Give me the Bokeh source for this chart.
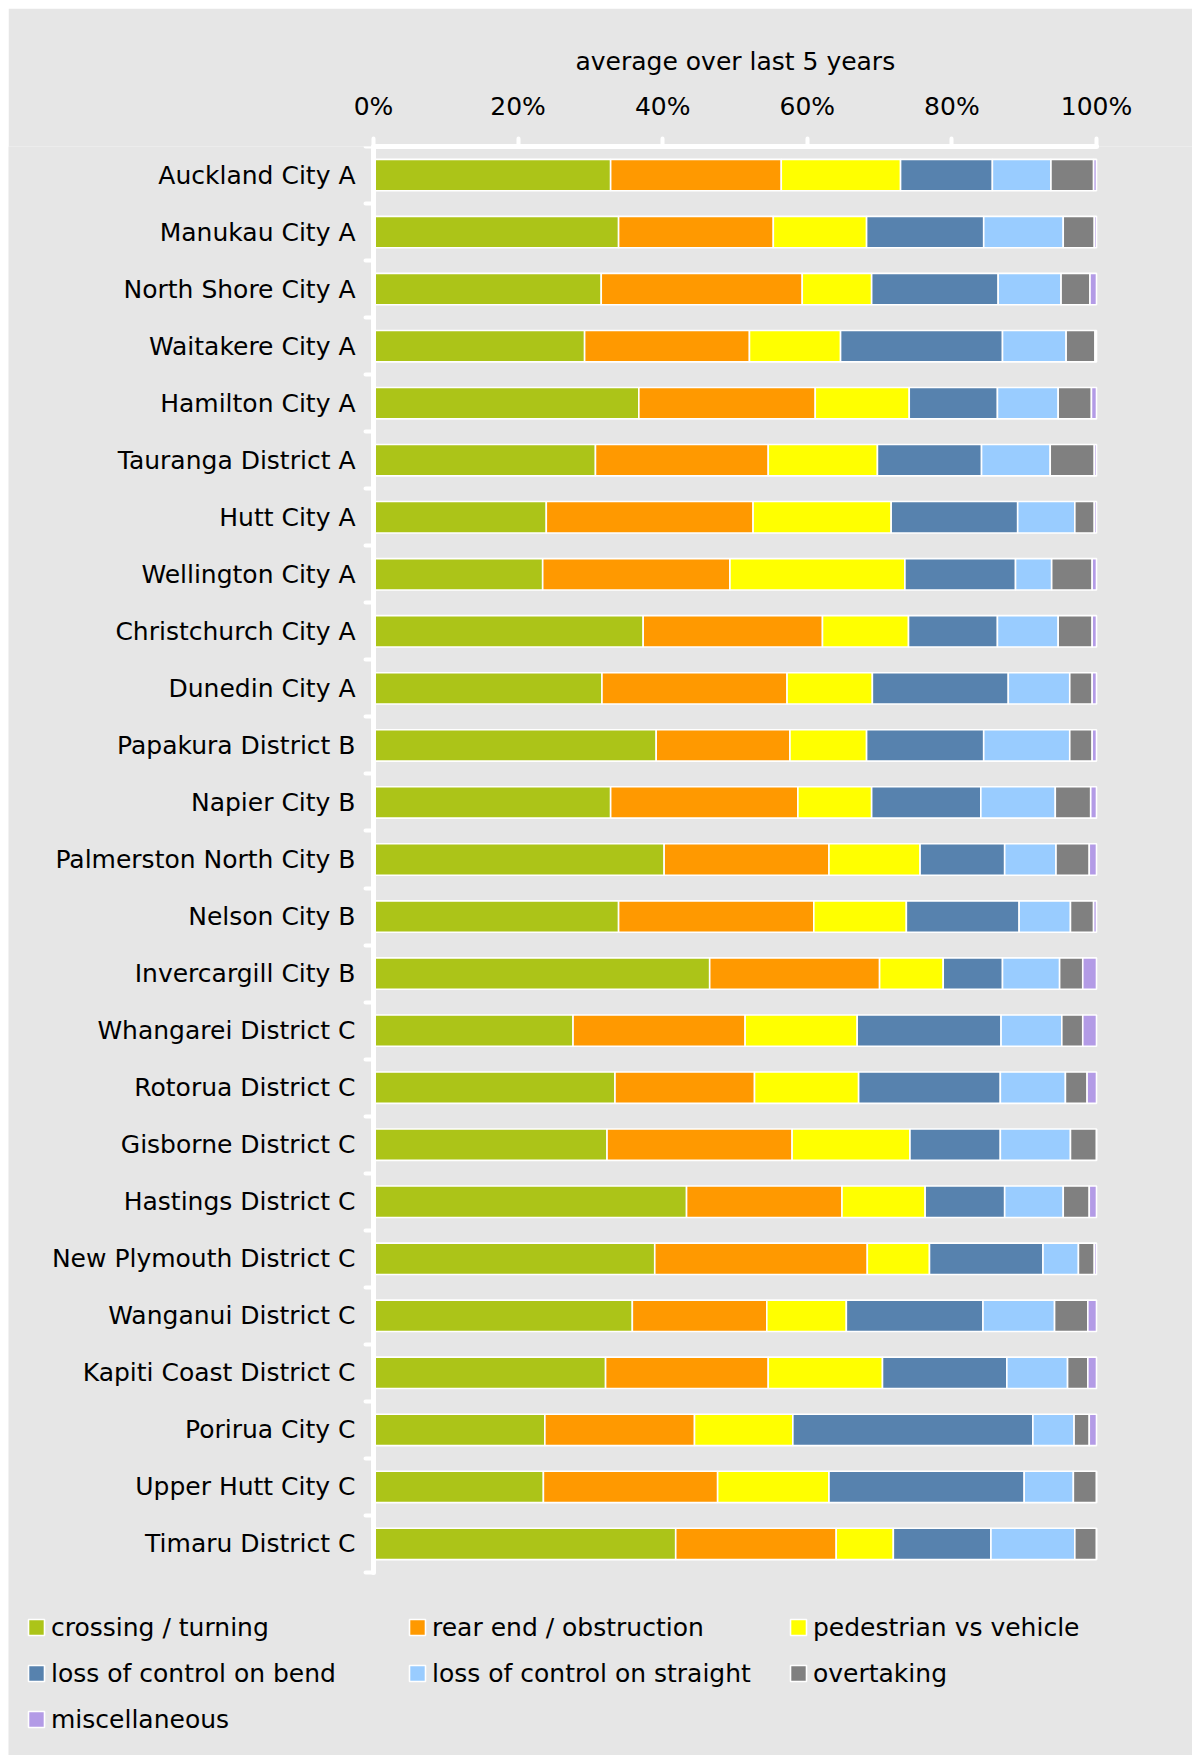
from bokeh.plotting import figure
from bokeh.models import (ColumnDataSource, FixedTicker, PrintfTickFormatter, Legend,
                          LegendItem, Range1d)
from bokeh.embed import file_html
from bokeh.resources import INLINE

# ---------------- data ----------------
districts = [
    "Auckland City A", "Manukau City A", "North Shore City A", "Waitakere City A",
    "Hamilton City A", "Tauranga District A", "Hutt City A", "Wellington City A",
    "Christchurch City A", "Dunedin City A", "Papakura District B", "Napier City B",
    "Palmerston North City B", "Nelson City B", "Invercargill City B",
    "Whangarei District C", "Rotorua District C", "Gisborne District C",
    "Hastings District C", "New Plymouth District C", "Wanganui District C",
    "Kapiti Coast District C", "Porirua City C", "Upper Hutt City C", "Timaru District C",
]

crossing_turning = [32.8, 33.9, 31.5, 29.2, 36.7, 30.7, 23.9, 23.4, 37.3, 31.6, 39.1, 32.8,
                    40.2, 33.9, 46.5, 27.6, 33.4, 32.3, 43.3, 38.9, 35.8, 32.1, 23.7, 23.5, 41.8]
rear_end_obstruction = [23.6, 21.4, 27.8, 22.8, 24.4, 23.9, 28.6, 25.9, 24.8, 25.6, 18.5, 25.9,
                        22.8, 27.0, 23.5, 23.8, 19.3, 25.6, 21.5, 29.4, 18.6, 22.5, 20.7, 24.1, 22.2]
pedestrian_vs_vehicle = [16.5, 12.9, 9.6, 12.6, 13.0, 15.1, 19.1, 24.2, 11.9, 11.8, 10.6, 10.2,
                         12.6, 12.8, 8.8, 15.5, 14.4, 16.3, 11.5, 8.6, 11.0, 15.8, 13.6, 15.4, 7.9]
loss_control_bend = [12.7, 16.2, 17.5, 22.4, 12.2, 14.4, 17.5, 15.3, 12.3, 18.8, 16.2, 15.1,
                     11.7, 15.6, 8.2, 19.9, 19.6, 12.5, 11.0, 15.7, 18.9, 17.2, 33.2, 27.0, 13.5]
loss_control_straight = [8.1, 11.0, 8.7, 8.8, 8.4, 9.5, 7.9, 5.0, 8.4, 8.5, 11.9, 10.3,
                         7.1, 7.1, 7.9, 8.4, 9.0, 9.7, 8.1, 4.9, 9.9, 8.4, 5.7, 6.8, 11.6]
overtaking = [5.9, 4.3, 4.0, 4.0, 4.6, 6.1, 2.7, 5.6, 4.7, 3.1, 3.1, 4.9,
              4.6, 3.2, 3.2, 2.9, 3.0, 3.6, 3.6, 2.2, 4.6, 2.8, 2.1, 3.2, 3.0]
miscellaneous = [0.4, 0.3, 0.9, 0.2, 0.7, 0.3, 0.3, 0.6, 0.6, 0.6, 0.6, 0.8,
                 1.0, 0.4, 1.9, 1.9, 1.3, 0.0, 1.0, 0.3, 1.2, 1.2, 1.0, 0.0, 0.0]

series_labels = ["crossing / turning", "rear end / obstruction", "pedestrian vs vehicle",
                 "loss of control on bend", "loss of control on straight", "overtaking",
                 "miscellaneous"]
series_colors = ["#acc418", "#ff9900", "#ffff00", "#5782ae", "#99ccff", "#808080", "#b39be6"]
x_ticks = [0, 20, 40, 60, 80, 100]
axis_title = "average over last 5 years"

# ---------------- layout constants (pixels inside the figure) ----------------
FONT = "DejaVu Sans"
BG = "#e6e6e6"
W, H = 1184, 1747
FRAME_L, FRAME_R = 0, W           # frame spans the full width so the legend fits inside it
FRAME_T, FRAME_B = 138, H
X0_PX, X100_PX = 365, 1088        # screen position of 0% and 100%
CAT_TOP, CAT_BOT = 138, 1564      # extent of the category bands
TITLE_LEFT_PX = 567               # left edge of the title text
LEGEND_INSET = 18                 # legend distance from the frame's left and bottom edges

n = len(districts)
px_per_pct = (X100_PX - X0_PX) / 100.0
x_start = -(X0_PX - FRAME_L) / px_per_pct
x_end = 100.0 + (FRAME_R - X100_PX) / px_per_pct
band = (CAT_BOT - CAT_TOP) / n
y_bottom = -0.5 + (FRAME_B - FRAME_T) / band

keys = ["s0", "s1", "s2", "s3", "s4", "s5", "s6"]
series = [crossing_turning, rear_end_obstruction, pedestrian_vs_vehicle, loss_control_bend,
          loss_control_straight, overtaking, miscellaneous]
data = {"y": list(range(n))}
for k, s in zip(keys, series):
    data[k] = s
source = ColumnDataSource(data)

p = figure(width=W, height=H, output_backend="svg", toolbar_location=None,
           x_range=Range1d(x_start, x_end), y_range=Range1d(y_bottom, -0.5),
           x_axis_location="above", y_axis_location="left",
           min_border_left=FRAME_L, min_border_right=W - FRAME_R, min_border_top=FRAME_T,
           min_border_bottom=H - FRAME_B, margin=(8, 0, 0, 8),
           title=axis_title, title_location="above")
p.background_fill_color = BG
p.border_fill_color = BG
p.outline_line_color = None
p.xgrid.visible = False
p.ygrid.visible = False

# title placed over the 0-100% axis rather than over the whole frame
p.title.align = "left"
p.title.offset = TITLE_LEFT_PX - FRAME_L
p.title.text_font = FONT
p.title.text_font_size = "25px"
p.title.text_font_style = "normal"
p.title.text_color = "black"
p.title.standoff = 25

renderers = p.hbar_stack(keys, y="y", height=0.55, color=series_colors, source=source,
                         line_color="white", line_width=1.6)

# top axis
xa = p.xaxis[0]
xa.bounds = (0, 100)
xa.ticker = FixedTicker(ticks=x_ticks)
xa.formatter = PrintfTickFormatter(format="%d%%")
xa.axis_line_color = "white"
xa.axis_line_width = 5
xa.axis_line_cap = "round"
xa.major_tick_line_color = "white"
xa.major_tick_line_width = 4
xa.major_tick_line_cap = "round"
xa.major_tick_out = 8
xa.major_tick_in = 0
xa.minor_tick_line_color = None
xa.major_label_text_font = FONT
xa.major_label_text_font_size = "25px"
xa.major_label_text_color = "black"
xa.major_label_standoff = 18

# left axis, drawn at 0%
ya = p.yaxis[0]
ya.fixed_location = 0
ya.bounds = (-0.5, n - 0.5)
ya.ticker = FixedTicker(ticks=list(range(n)), minor_ticks=[i - 0.5 for i in range(n + 1)])
ya.major_label_overrides = {i: name for i, name in enumerate(districts)}
ya.major_tick_line_color = None
ya.major_tick_out = 0
ya.major_tick_in = 0
ya.minor_tick_line_color = "white"
ya.minor_tick_line_width = 4
ya.minor_tick_line_cap = "round"
ya.minor_tick_out = 8
ya.minor_tick_in = 0
ya.axis_line_color = "white"
ya.axis_line_width = 5
ya.axis_line_cap = "round"
ya.major_label_text_font = FONT
ya.major_label_text_font_size = "25px"
ya.major_label_text_color = "black"
ya.major_label_standoff = 10

legend = Legend(items=[LegendItem(label=lab, renderers=[r]) for lab, r in zip(series_labels, renderers)],
                ncols=3, orientation="horizontal", location="bottom_left",
                glyph_width=20, glyph_height=20, label_standoff=5, label_width=346,
                label_height=36, spacing=10, padding=0, margin=LEGEND_INSET,
                border_line_color=None, background_fill_alpha=0,
                label_text_font=FONT, label_text_font_size="25px", label_text_color="black")
p.add_layout(legend)

open("out.html", "w").write(file_html(p, INLINE))
